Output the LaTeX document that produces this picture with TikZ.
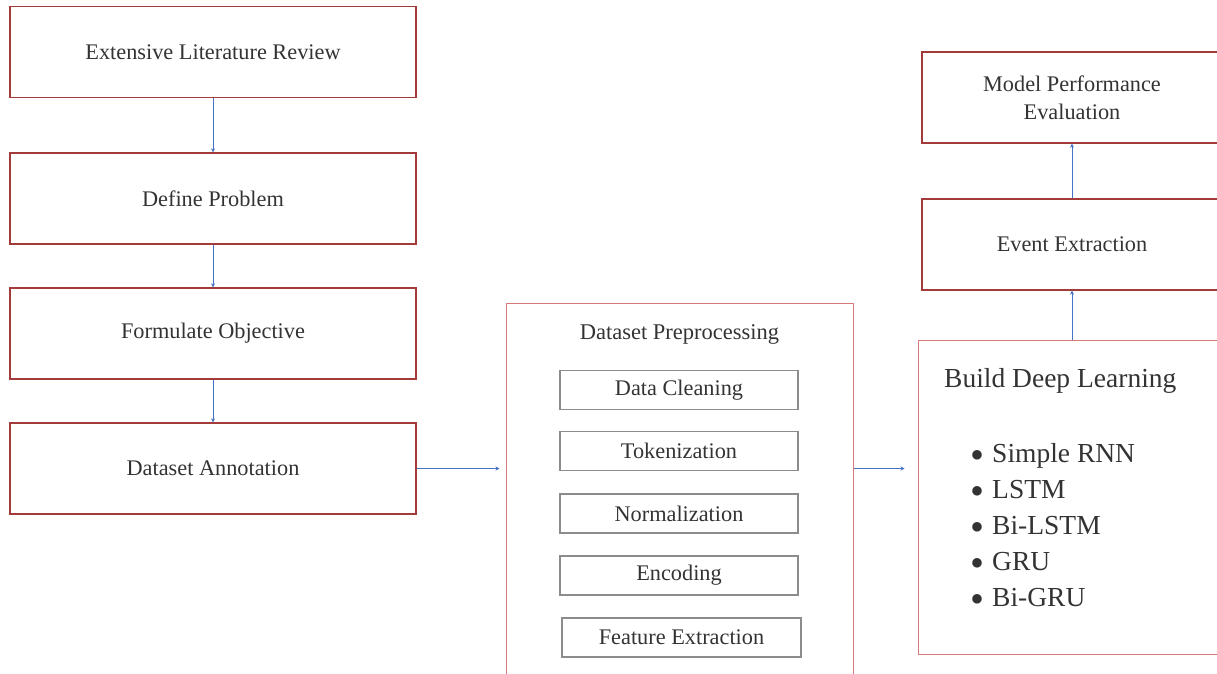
\documentclass[tikz,border=0pt]{standalone}
\usepackage{fontspec}
\setmainfont{Liberation Serif}
\usetikzlibrary{arrows.meta}
\definecolor{boxred}{HTML}{A33B3B}
\definecolor{lightred}{HTML}{D47A7A}
\definecolor{subgray}{HTML}{8C8C8C}
\definecolor{arrowblue}{HTML}{4472C4}
\definecolor{txt}{HTML}{333333}
\newcommand\bdot{\makebox[17pt][l]{\hspace*{-5pt}\raisebox{-6.5pt}{\scalebox{1.45}{\textbullet}}}}
\begin{document}
\begin{tikzpicture}[x=1pt,y=-1pt,
  mainbox/.style={draw=boxred,line width=1.3pt,minimum width=406pt,minimum height=91pt,inner sep=0pt,font=\fontsize{22.3}{26}\selectfont,text=txt,align=center},
  rbox/.style={draw=boxred,line width=1.3pt,minimum width=300pt,minimum height=91pt,inner sep=0pt,font=\fontsize{22.3}{28}\selectfont,text=txt,align=center},
  bigbox/.style={draw=lightred,line width=1pt,inner sep=0pt},
  subbox/.style={draw=subgray,line width=1.3pt,minimum width=238pt,minimum height=39pt,inner sep=0pt,font=\fontsize{22.3}{26}\selectfont,text=txt},
  conn/.style={draw=arrowblue,line width=1pt,-{Stealth[length=4pt,width=4pt]}}
]
\useasboundingbox (0,0) rectangle (1217,673);
\begin{scope}
\clip (0,0) rectangle (1217,673);
% left column
\node[mainbox] (b1) at (213,52) {Extensive Literature Review};
\node[mainbox] (b2) at (213,198.5) {Define Problem};
\node[mainbox] (b3) at (213,333.5) {Formulate Objective};
\node[mainbox] (b4) at (213,468.5) {Dataset Annotation};
% middle
\node[bigbox,minimum width=347pt,minimum height=390pt] (mid) at (679.5,498) {};
\node[font=\fontsize{22.5}{26}\selectfont,text=txt] (midt) at (679.5,334) {Dataset Preprocessing};
\node[subbox] (s1) at (679,390) {Data Cleaning};
\node[subbox] (s2) at (679,451) {Tokenization};
\node[subbox] (s3) at (679,513.5) {Normalization};
\node[subbox] (s4) at (679,575.5) {Encoding};
\node[subbox,minimum width=239pt] (s5) at (681.5,637.5) {Feature Extraction};
% right column
\node[bigbox,minimum width=304pt,minimum height=314pt] (bd) at (1070,497) {};
\node[anchor=west,font=\fontsize{27.5}{32}\selectfont,text=txt,inner sep=0pt] (bdt) at (944,381) {Build Deep Learning};
\node[anchor=north west,font=\fontsize{27.5}{36}\selectfont,text=txt,align=left,inner sep=0pt] (bdl) at (975,443)
  {\bdot Simple RNN\\ \bdot LSTM\\ \bdot Bi-LSTM\\ \bdot GRU\\ \bdot Bi-GRU};
\node[rbox] (ev) at (1072,244.5) {Event Extraction};
\node[rbox] (mp) at (1072,97.5) {Model Performance\\Evaluation};
\end{scope}
% connectors
\draw[conn] (b1) -- (b2);
\draw[conn] (b2) -- (b3);
\draw[conn] (b3) -- (b4);
\draw[conn,shorten >=6pt] (b4.east) -- (b4.east -| mid.west);
\draw[conn,shorten >=13pt] (b4.east -| mid.east) -- (b4.east -| bd.west);
\draw[conn] (ev.south |- bd.north) -- (ev.south);
\draw[conn] (ev) -- (mp);
\end{tikzpicture}
\end{document}
